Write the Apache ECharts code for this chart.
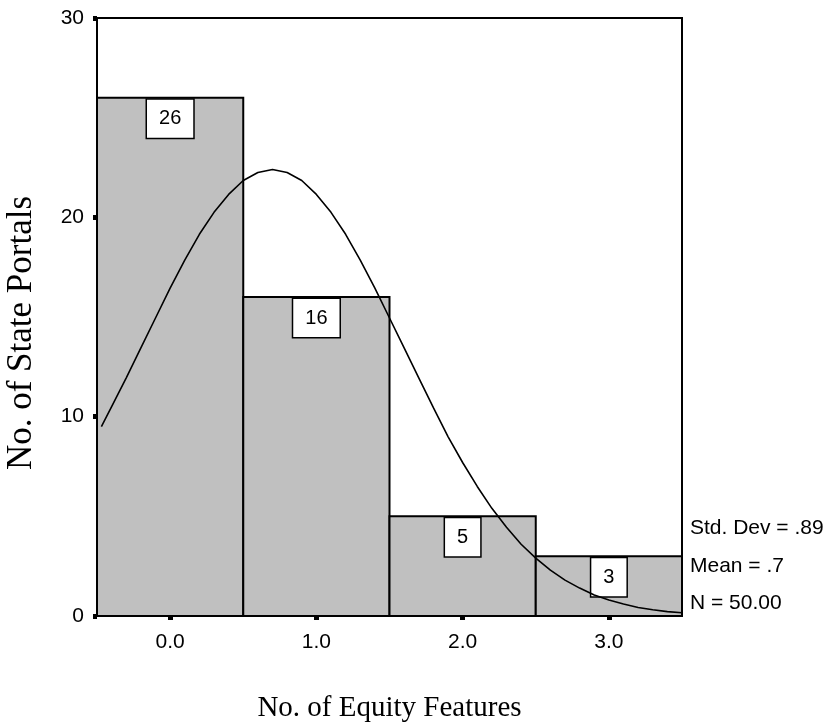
<!DOCTYPE html>
<html>
<head>
<meta charset="utf-8">
<script src="https://cdn.jsdelivr.net/npm/echarts@6/dist/echarts.min.js"></script>
<style>
  html, body { margin: 0; padding: 0; background: #fff; }
  #chart { width: 825px; height: 728px; }
</style>
</head>
<body>
<div id="chart"></div>
<script>
// Histogram bins (number of equity features) and their counts
const binLabels = ['0.0', '1.0', '2.0', '3.0'];
const binCenters = [0, 1, 2, 3];
const binCounts = [26, 16, 5, 3];

// Fitted normal curve, sampled along the feature axis
const curveX = [-0.47, -0.4, -0.3, -0.2, -0.1, 0.0, 0.1, 0.2, 0.3, 0.4, 0.5, 0.6, 0.7, 0.8, 0.9,
  1.0, 1.1, 1.2, 1.3, 1.4, 1.5, 1.6, 1.7, 1.8, 1.9, 2.0, 2.1, 2.2, 2.3, 2.4, 2.5, 2.6, 2.7,
  2.8, 2.9, 3.0, 3.1, 3.2, 3.3, 3.4, 3.5];
const curveY = [9.5, 10.5, 11.95, 13.45, 14.95, 16.45, 17.85, 19.15, 20.25, 21.15, 21.85, 22.25, 22.4, 22.25, 21.85,
  21.15, 20.25, 19.15, 17.85, 16.45, 14.95, 13.45, 11.95, 10.45, 9.0, 7.7, 6.5, 5.4, 4.45, 3.6, 2.9, 2.3, 1.8,
  1.4, 1.05, 0.8, 0.6, 0.43, 0.31, 0.22, 0.16];

// Summary statistics shown beside the plot
const statLines = ['Std. Dev = .89', 'Mean = .7', 'N = 50.00'];

const yTicks = { min: 0, max: 30, interval: 10 };
const xRange = { min: -0.5, max: 3.5 };
const xTitle = 'No. of Equity Features';
const yTitle = 'No. of State Portals';

const sans = '"Liberation Sans", Arial, sans-serif';
const serif = '"Liberation Serif", "Times New Roman", serif';

const chart = echarts.init(document.getElementById('chart'), null, { renderer: 'canvas' });

const curveData = curveX.map((x, i) => [x, curveY[i]]);
const barData = binCenters.map((c, i) => [c, binCounts[i]]);

// Each histogram bar spans its bin: center ± half a unit on the feature axis
function renderBin(params, api) {
  const center = api.value(0);
  const count = api.value(1);
  const p0 = api.coord([center - 0.5, 0]);
  const p1 = api.coord([center + 0.5, count]);
  return {
    type: 'rect',
    shape: { x: p0[0], y: p1[1], width: p1[0] - p0[0], height: p0[1] - p1[1] },
    style: { fill: '#c0c0c0', stroke: '#000', lineWidth: 2 },
    textContent: {
      style: {
        text: String(count),
        font: '20px ' + sans,
        fill: '#000',
        backgroundColor: '#fff',
        borderColor: '#000',
        borderWidth: 1.5,
        padding: [9, 12, 9, 12],
        lineHeight: 20
      },
      z2: 10
    },
    textConfig: { position: 'insideTop', distance: 3 }
  };
}

chart.setOption({
  animation: false,
  backgroundColor: '#fff',
  grid: {
    left: 97, top: 18, right: 143, bottom: 110,
    show: true, borderColor: '#000', borderWidth: 2, backgroundColor: 'transparent'
  },
  xAxis: [
    {
      type: 'category',
      data: binLabels,
      boundaryGap: true,
      name: xTitle,
      nameLocation: 'middle',
      nameGap: 78,
      nameTextStyle: { fontFamily: serif, fontSize: 29, color: '#000' },
      axisLine: { show: true, onZero: false, lineStyle: { color: '#000', width: 2 } },
      axisTick: { show: true, alignWithLabel: true, length: 4, lineStyle: { color: '#000', width: 5 } },
      axisLabel: { fontFamily: sans, fontSize: 21, color: '#000', margin: 16 },
      splitLine: { show: false }
    },
    {
      type: 'value',
      min: xRange.min, max: xRange.max,
      show: false,
      axisLine: { onZero: false },
      splitLine: { show: false }
    }
  ],
  yAxis: {
    type: 'value',
    min: yTicks.min, max: yTicks.max, interval: yTicks.interval,
    axisLine: { show: true, onZero: false, lineStyle: { color: '#000', width: 2 } },
    axisTick: { show: true, length: 4, lineStyle: { color: '#000', width: 5 } },
    axisLabel: { fontFamily: sans, fontSize: 21, color: '#000', margin: 13, padding: [3, 0, 0, 0] },
    splitLine: { show: false }
  },
  series: [
    {
      type: 'custom',
      xAxisIndex: 1,
      yAxisIndex: 0,
      data: barData,
      renderItem: renderBin,
      encode: { x: 0, y: 1 },
      z: 2,
      silent: true
    },
    {
      type: 'line',
      xAxisIndex: 1,
      data: curveData,
      showSymbol: false,
      smooth: false,
      lineStyle: { color: '#000', width: 1.6 },
      z: 3,
      silent: true
    }
  ],
  graphic: [
    {
      type: 'text',
      x: 22,
      y: 333,
      rotation: Math.PI / 2,
      style: {
        text: yTitle, font: '35px ' + serif, fill: '#000',
        textAlign: 'center', textVerticalAlign: 'middle'
      }
    }
  ].concat(statLines.map((t, i) => ({
    type: 'text',
    left: 690,
    top: 518 + i * 37.5,
    style: { text: t, font: '21px ' + sans, fill: '#000' }
  })))
});
</script>
</body>
</html>
